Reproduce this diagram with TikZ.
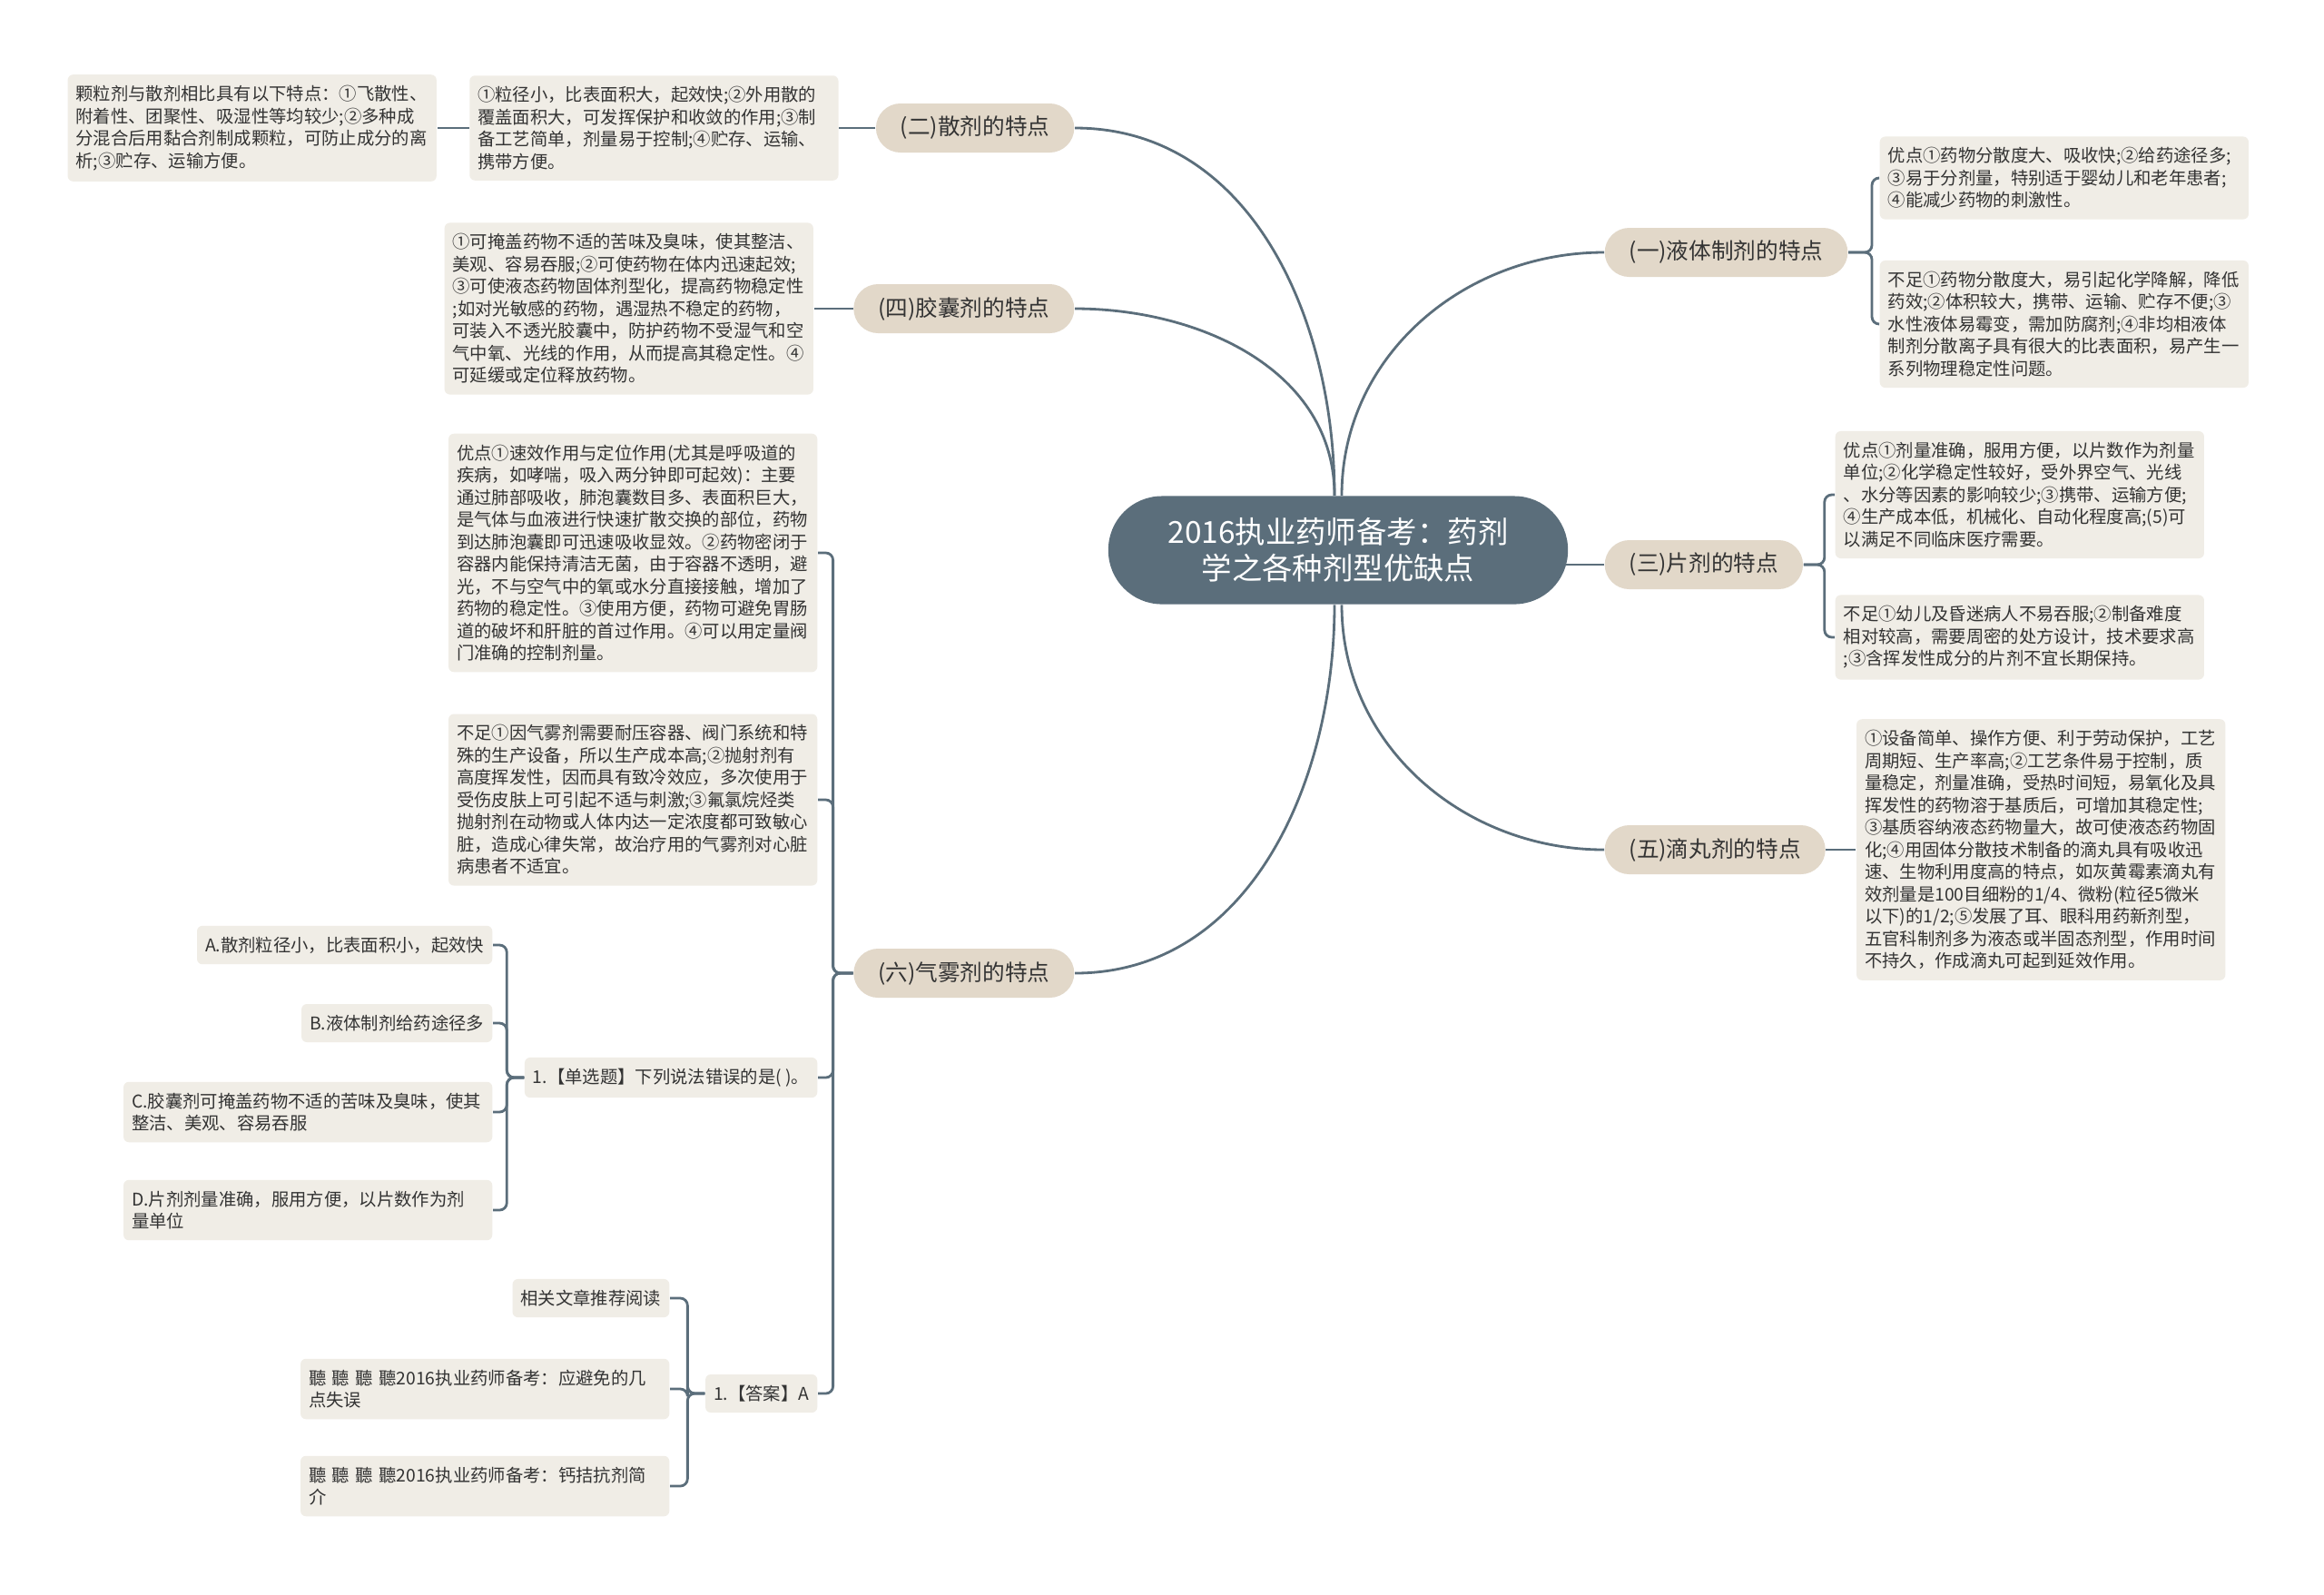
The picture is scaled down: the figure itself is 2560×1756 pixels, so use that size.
\documentclass[tikz,border=0pt]{standalone}
\usepackage{fontspec}
\setmainfont{Noto Sans CJK SC}
\usetikzlibrary{positioning,backgrounds}
\definecolor{hubFill}{HTML}{5B6E7B}
\definecolor{topicFill}{HTML}{E2D8C9}
\definecolor{leafFill}{HTML}{F0EDE6}
\definecolor{lineCol}{HTML}{5B6E7B}
\definecolor{txtCol}{HTML}{333333}
\tikzset{
  hub/.style  ={rectangle,rounded corners=0.59cm,fill=hubFill,text=white,align=center,minimum width=5.06cm,minimum height=1.19cm,font=\fontsize{9.5pt}{11.4pt}\selectfont},
  topic/.style={rectangle,rounded corners=0.27cm,fill=topicFill,text=txtCol,inner xsep=0.27cm,inner ysep=0pt,minimum height=0.54cm,font=\fontsize{7pt}{8pt}\selectfont},
  leaf/.style ={rectangle,rounded corners=0.06cm,fill=leafFill,text=txtCol,align=left,inner xsep=0.09cm,inner ysep=0.12cm,font=\fontsize{5.5pt}{6.97pt}\selectfont},
  wide/.style ={leaf,text width=3.88cm},
  conn/.style ={draw=lineCol,line width=0.8pt},
  fork/.style ={conn,rounded corners=0.08cm},
}

\begin{document}
\begin{tikzpicture}[x=0.01cm,y=-0.01cm]
  \useasboundingbox (0,0) rectangle (2560,1756);

  % centre
  \node[hub] (root) at (1474,606) {2016执业药师备考：药剂\\学之各种剂型优缺点};

  % left topics
  \node[topic,anchor=east] (san)  at (1184,141)  {(二)散剂的特点};
  \node[topic,anchor=east] (jiao) at (1184,340)  {(四)胶囊剂的特点};
  \node[topic,anchor=east] (qi)   at (1184,1072) {(六)气雾剂的特点};
  % right topics
  \node[topic,anchor=west] (ye)   at (1767,278)  {(一)液体制剂的特点};
  \node[topic,anchor=west] (pian) at (1767,622)  {(三)片剂的特点};
  \node[topic,anchor=west] (di)   at (1767,936)  {(五)滴丸剂的特点};

  % (二)
  \node[wide,left=0.4cm of san] (sanTxt)
        {①粒径小，比表面积大，起效快;②外用散的\\覆盖面积大，可发挥保护和收敛的作用;③制\\备工艺简单，剂量易于控制;④贮存、运输、\\携带方便。};
  \node[wide,left=0.35cm of sanTxt] (sanCmp)
        {颗粒剂与散剂相比具有以下特点：①飞散性、\\附着性、团聚性、吸湿性等均较少;②多种成\\分混合后用黏合剂制成颗粒，可防止成分的离\\析;③贮存、运输方便。};

  % (四)
  \node[wide,left=0.43cm of jiao] (jiaoTxt)
        {①可掩盖药物不适的苦味及臭味，使其整洁、\\美观、容易吞服;②可使药物在体内迅速起效;\\③可使液态药物固体剂型化，提高药物稳定性\\;如对光敏感的药物，遇湿热不稳定的药物，\\可装入不透光胶囊中，防护药物不受湿气和空\\气中氧、光线的作用，从而提高其稳定性。④\\可延缓或定位释放药物。};

  % (六)
  \node[wide,anchor=east] (qiYou) at (901,609)
        {优点①速效作用与定位作用(尤其是呼吸道的\\疾病，如哮喘，吸入两分钟即可起效)：主要\\通过肺部吸收，肺泡囊数目多、表面积巨大，\\是气体与血液进行快速扩散交换的部位，药物\\到达肺泡囊即可迅速吸收显效。②药物密闭于\\容器内能保持清洁无菌，由于容器不透明，避\\光，不与空气中的氧或水分直接接触，增加了\\药物的稳定性。③使用方便，药物可避免胃肠\\道的破坏和肝脏的首过作用。④可以用定量阀\\门准确的控制剂量。};
  \node[wide,anchor=east] (qiBu) at (901,881)
        {不足①因气雾剂需要耐压容器、阀门系统和特\\殊的生产设备，所以生产成本高;②抛射剂有\\高度挥发性，因而具有致冷效应，多次使用于\\受伤皮肤上可引起不适与刺激;③氟氯烷烃类\\抛射剂在动物或人体内达一定浓度都可致敏心\\脏，造成心律失常，故治疗用的气雾剂对心脏\\病患者不适宜。};
  \node[leaf,anchor=east] (qiQ)   at (901,1187) {1.【单选题】下列说法错误的是( )。};
  \node[leaf,anchor=east] (optA)  at (543,1041) {A.散剂粒径小，比表面积小，起效快};
  \node[leaf,anchor=east] (optB)  at (543,1127) {B.液体制剂给药途径多};
  \node[wide,anchor=east] (optC)  at (543,1225) {C.胶囊剂可掩盖药物不适的苦味及臭味，使其\\整洁、美观、容易吞服};
  \node[wide,anchor=east] (optD)  at (543,1333) {D.片剂剂量准确，服用方便，以片数作为剂\\量单位};
  \node[leaf,anchor=east] (qiAns) at (901,1535) {1.【答案】A};
  \node[leaf,anchor=east] (ansRel) at (738,1430) {相关文章推荐阅读};
  \node[wide,anchor=east] (ansL1) at (738,1530) {聽 聽 聽 聽2016执业药师备考：应避免的几\\点失误};
  \node[wide,anchor=east] (ansL2) at (738,1637) {聽 聽 聽 聽2016执业药师备考：钙拮抗剂简\\介};

  % (一)
  \node[wide,anchor=west] (yeYou) at (2070,196)
        {优点①药物分散度大、吸收快;②给药途径多;\\③易于分剂量，特别适于婴幼儿和老年患者;\\④能减少药物的刺激性。};
  \node[wide,anchor=west] (yeBu) at (2070,357)
        {不足①药物分散度大，易引起化学降解，降低\\药效;②体积较大，携带、运输、贮存不便;③\\水性液体易霉变，需加防腐剂;④非均相液体\\制剂分散离子具有很大的比表面积，易产生一\\系列物理稳定性问题。};

  % (三)
  \node[wide,anchor=west] (pianYou) at (2021,545)
        {优点①剂量准确，服用方便，以片数作为剂量\\单位;②化学稳定性较好，受外界空气、光线\\、水分等因素的影响较少;③携带、运输方便;\\④生产成本低，机械化、自动化程度高;(5)可\\以满足不同临床医疗需要。};
  \node[wide,anchor=west] (pianBu) at (2021,702)
        {不足①幼儿及昏迷病人不易吞服;②制备难度\\相对较高，需要周密的处方设计，技术要求高\\;③含挥发性成分的片剂不宜长期保持。};

  % (五)
  \node[wide,right=0.33cm of di] (diTxt)
        {①设备简单、操作方便、利于劳动保护，工艺\\周期短、生产率高;②工艺条件易于控制，质\\量稳定，剂量准确，受热时间短，易氧化及具\\挥发性的药物溶于基质后，可增加其稳定性;\\③基质容纳液态药物量大，故可使液态药物固\\化;④用固体分散技术制备的滴丸具有吸收迅\\速、生物利用度高的特点，如灰黄霉素滴丸有\\效剂量是100目细粉的1/4、微粉(粒径5微米\\以下)的1/2;⑤发展了耳、眼科用药新剂型，\\五官科制剂多为液态或半固态剂型，作用时间\\不持久，作成滴丸可起到延效作用。};

  \begin{scope}[on background layer]
    \fill[white] (0,0) rectangle (2560,1756);
    % centre to topics
    \draw[conn] ([xshift=-0.04cm]root.north) to[out=90,in=0]   (san.east);
    \draw[conn] ([xshift=-0.04cm]root.north) to[out=90,in=0]   (jiao.east);
    \draw[conn] ([xshift=-0.04cm]root.south) to[out=-90,in=0]  (qi.east);
    \draw[conn] ([xshift=0.04cm]root.north)  to[out=90,in=180] (ye.west);
    \draw[conn] (root.center |- pian.west) -- (pian.west);
    \draw[conn] ([xshift=0.04cm]root.south)  to[out=-90,in=180] (di.west);
    % topics to leaves
    \draw[conn] (san.west) -- (sanTxt.east);
    \draw[conn] (sanTxt.west) -- (sanCmp.east);
    \draw[conn] (jiao.west) -- (jiaoTxt.east);
    \draw[conn] (di.east) -- (diTxt.west);
    \draw[fork] (qi.west) -- ++(-22,0) |- (qiYou.east);
    \draw[fork] (qi.west) -- ++(-22,0) |- (qiBu.east);
    \draw[fork] (qi.west) -- ++(-22,0) |- (qiQ.east);
    \draw[fork] (qi.west) -- ++(-22,0) |- (qiAns.east);
    \draw[fork] (qiQ.west) -- ++(-19,0) |- (optA.east);
    \draw[fork] (qiQ.west) -- ++(-19,0) |- (optB.east);
    \draw[fork] (qiQ.west) -- ++(-19,0) |- (optC.east);
    \draw[fork] (qiQ.west) -- ++(-19,0) |- (optD.east);
    \draw[fork] (qiAns.west) -- ++(-19,0) |- (ansRel.east);
    \draw[fork] (qiAns.west) -- ++(-19,0) |- (ansL1.east);
    \draw[fork] (qiAns.west) -- ++(-19,0) |- (ansL2.east);
    \draw[fork] (ye.east) -- ++(26,0) |- (yeYou.west);
    \draw[fork] (ye.east) -- ++(26,0) |- (yeBu.west);
    \draw[fork] (pian.east) -- ++(23,0) |- (pianYou.west);
    \draw[fork] (pian.east) -- ++(23,0) |- (pianBu.west);
  \end{scope}
\end{tikzpicture}
\end{document}
